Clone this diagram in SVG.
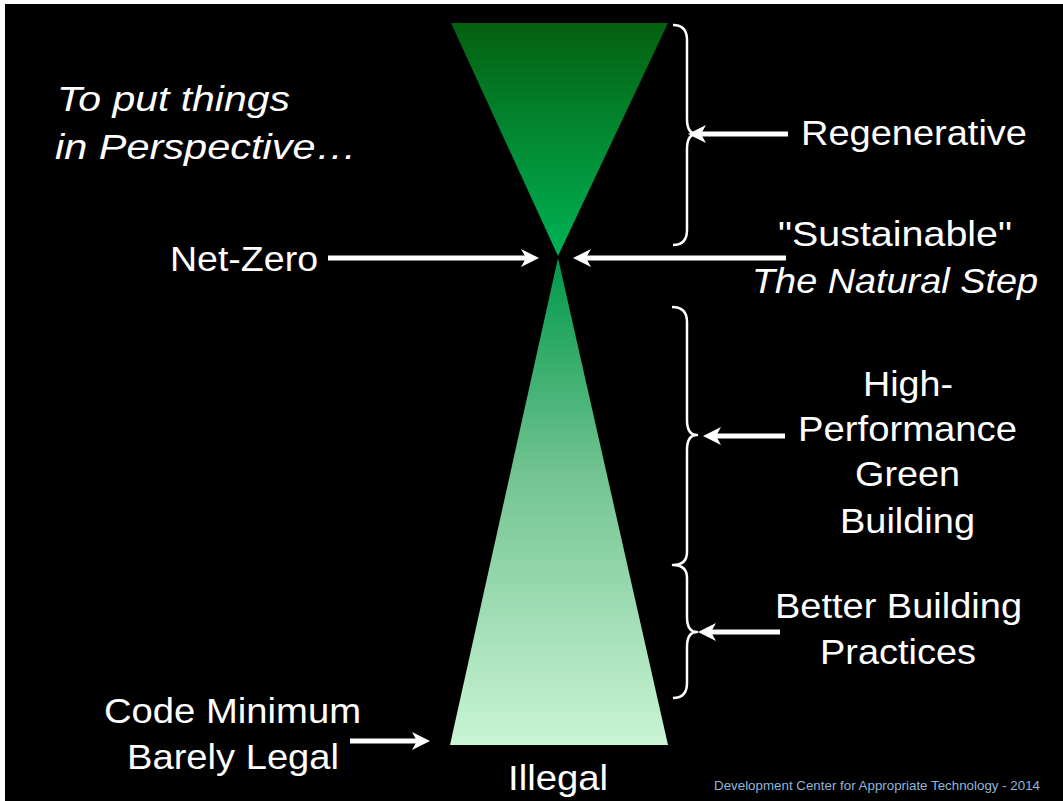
<svg xmlns="http://www.w3.org/2000/svg" width="1063" height="801" viewBox="0 0 1063 801">
  <defs>
    <linearGradient id="gTop" x1="0" y1="23" x2="0" y2="255" gradientUnits="userSpaceOnUse">
      <stop offset="0" stop-color="#04600f"/>
      <stop offset="0.5" stop-color="#028a33"/>
      <stop offset="1" stop-color="#00b255"/>
    </linearGradient>
    <linearGradient id="gBot" x1="0" y1="258" x2="0" y2="745" gradientUnits="userSpaceOnUse">
      <stop offset="0" stop-color="#00994a"/>
      <stop offset="0.45" stop-color="#74c492"/>
      <stop offset="1" stop-color="#c9f5d4"/>
    </linearGradient>
    <marker id="ah" viewBox="0 0 18 18" refX="9" refY="9" markerWidth="18" markerHeight="18" markerUnits="userSpaceOnUse" orient="auto">
      <path d="M0,0 L18,9 L0,18 L5,9 Z" fill="#ffffff"/>
    </marker>
    <style>
      .t { font-family: "Liberation Sans", Arial, sans-serif; fill: #ffffff; font-size: 35px; }
      .it { font-style: italic; }
      .arr { stroke: #ffffff; stroke-width: 5; fill: none; marker-end: url(#ah); }
      .br { stroke: #ffffff; stroke-width: 2.5; fill: none; stroke-linejoin: round; }
      .foot { font-family: "Liberation Sans", Arial, sans-serif; fill: #8fb6da; font-size: 13px; }
    </style>
  </defs>
  <rect x="0" y="0" width="1063" height="801" fill="#ffffff"/>
  <rect x="5" y="4" width="1058" height="797" fill="#000000"/>

  <g id="top-triangle">
    <polygon points="451,23 668,23 558,256" fill="url(#gTop)"/>
  </g>
  <g id="bottom-triangle">
    <polygon points="558,258 668,745 450,745" fill="url(#gBot)"/>
  </g>

  <g id="braces">
    <path class="br" d="M673,25 Q687,25 687,40 L687,119 Q687,134 697,134 Q687,134 687,149 L687,230 Q687,245 673,245"/>
    <path class="br" d="M672,307 Q687,307 687,322 L687,420 Q687,435 697,435 Q687,435 687,450 L687,552 Q687,565 673,565 Q687,565 687,578 L687,617 Q687,632 697,632 Q687,632 687,647 L687,683 Q687,698 673,698"/>
  </g>

  <g id="connectors">
    <line class="arr" x1="788" y1="134" x2="697" y2="134"/>
    <line class="arr" x1="328" y1="258" x2="530" y2="258"/>
    <line class="arr" x1="786" y1="258" x2="582" y2="258"/>
    <line class="arr" x1="785" y1="436" x2="712" y2="436"/>
    <line class="arr" x1="780" y1="632" x2="707" y2="632"/>
    <line class="arr" x1="350" y1="741" x2="421" y2="741"/>
  </g>

  <g id="title">
    <text class="t it" x="57" y="111" font-size="40" textLength="233" lengthAdjust="spacingAndGlyphs">To put things</text>
    <text class="t it" x="55" y="159" font-size="40" textLength="302" lengthAdjust="spacingAndGlyphs">in Perspective…</text>
  </g>
  <g id="net-zero">
    <text class="t" x="170" y="271" font-size="35" textLength="148" lengthAdjust="spacingAndGlyphs">Net-Zero</text>
  </g>
  <g id="regenerative">
    <text class="t" x="801" y="145" textLength="226" lengthAdjust="spacingAndGlyphs">Regenerative</text>
  </g>
  <g id="sustainable">
    <text class="t" x="778" y="246" textLength="234" lengthAdjust="spacingAndGlyphs">"Sustainable"</text>
    <text class="t it" x="752" y="293" textLength="286" lengthAdjust="spacingAndGlyphs">The Natural Step</text>
  </g>
  <g id="high-performance">
    <text class="t" x="863" y="396" textLength="90" lengthAdjust="spacingAndGlyphs">High-</text>
    <text class="t" x="798" y="441" textLength="219" lengthAdjust="spacingAndGlyphs">Performance</text>
    <text class="t" x="855" y="486" textLength="105" lengthAdjust="spacingAndGlyphs">Green</text>
    <text class="t" x="840" y="533" textLength="135" lengthAdjust="spacingAndGlyphs">Building</text>
  </g>
  <g id="better-building">
    <text class="t" x="775" y="618" textLength="247" lengthAdjust="spacingAndGlyphs">Better Building</text>
    <text class="t" x="820" y="664" textLength="156" lengthAdjust="spacingAndGlyphs">Practices</text>
  </g>
  <g id="code-minimum">
    <text class="t" x="104" y="723" textLength="257" lengthAdjust="spacingAndGlyphs">Code Minimum</text>
    <text class="t" x="127" y="769" textLength="212" lengthAdjust="spacingAndGlyphs">Barely Legal</text>
  </g>
  <g id="illegal">
    <text class="t" x="508" y="790" font-size="38" textLength="100" lengthAdjust="spacingAndGlyphs">Illegal</text>
  </g>
  <g id="footer">
    <text class="foot" x="714" y="790" textLength="326" lengthAdjust="spacingAndGlyphs">Development Center for Appropriate Technology - 2014</text>
  </g>
</svg>
